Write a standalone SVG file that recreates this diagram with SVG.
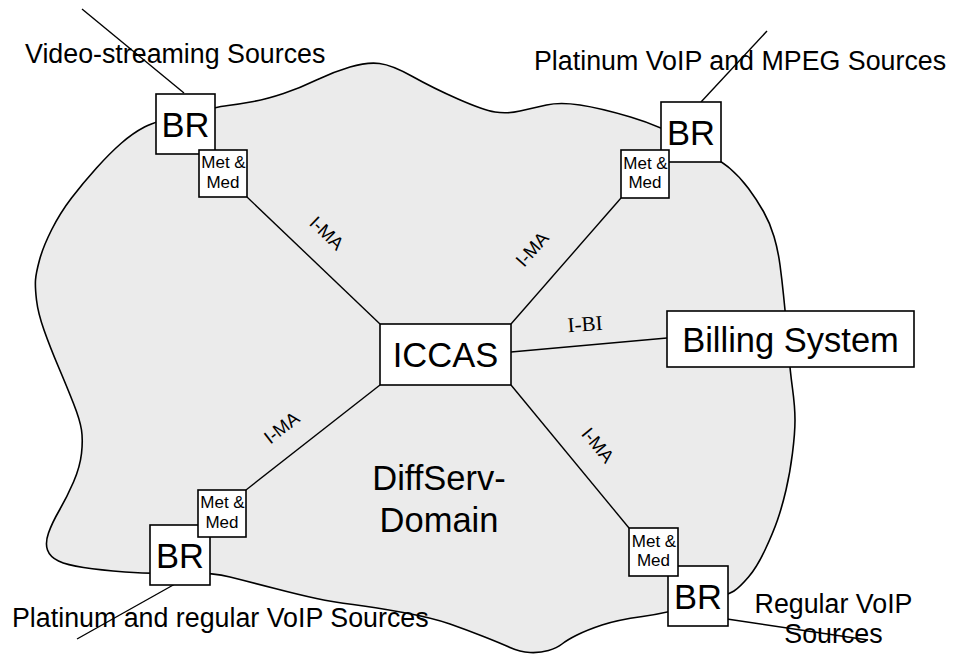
<svg xmlns="http://www.w3.org/2000/svg" width="953" height="654" viewBox="0 0 953 654">
  <style>
    .box { fill: #ffffff; stroke: #000000; stroke-width: 1.6; }
    .link { stroke: #000000; stroke-width: 1.4; fill: none; }
    .big { font-family: "Liberation Sans", Arial, sans-serif; font-size: 34.5px; fill: #000; text-anchor: middle; }
    .small { font-family: "Liberation Sans", Arial, sans-serif; font-size: 17px; fill: #000; text-anchor: middle; }
    .src { font-family: "Liberation Sans", Arial, sans-serif; font-size: 26.8px; fill: #000; }
    .iface { font-family: "Liberation Sans", Arial, sans-serif; font-size: 18.5px; fill: #000; text-anchor: middle; }
    .serif { font-family: "Liberation Serif", "Times New Roman", serif; font-size: 21px; fill: #000; text-anchor: middle; }
  </style>
  <rect x="0" y="0" width="953" height="654" fill="#ffffff"/>

  <!-- DiffServ domain cloud -->
  <g id="domain">
    <path fill="#ebebeb" stroke="#000" stroke-width="1.6" d="M 186,114 Q 216,107 228,105.5 Q 240,104 253.5,101.5 Q 267,99 283.5,93.5 Q 300,88 316.5,80 Q 333,72 350,67 Q 367,62 379.5,63.5 Q 392,65 412.5,76.5 Q 433,88 458,99 Q 483,110 495,112 Q 507,114 520,111 Q 533,108 546.5,105 Q 560,102 580,105 Q 600,108 630.5,117 Q 661,126 690.5,143 Q 720,160 730,168.5 Q 740,177 748.5,188.5 Q 757,200 763.5,211.5 Q 770,223 774,236.5 Q 778,250 780,265 Q 782,280 783.5,295 Q 785,310 786.5,325 Q 788,340 789,355 Q 790,370 792.5,388.5 Q 795,407 795,420 Q 795,433 792.5,453 Q 790,473 786,490 Q 782,507 777.5,520 Q 773,533 765,550 Q 757,567 748.5,577 Q 740,587 734,591 Q 728,595 698,604 Q 668,613 642.5,616.5 Q 617,620 602,625 Q 587,630 577,635 Q 567,640 562,644 Q 557,648 548.5,650.5 Q 540,653 530,652.5 Q 520,652 510,647.5 Q 500,643 483.5,636.5 Q 467,630 450,624 Q 433,618 403,612.5 Q 373,607 353,604.5 Q 333,602 316.5,598.5 Q 300,595 275,588.5 Q 250,582 230,577 Q 210,572 180,573 Q 150,574 125,572 Q 100,570 83.5,567.5 Q 67,565 58.5,561 Q 50,557 47.5,550 Q 45,543 48.5,533 Q 52,523 59.5,510 Q 67,497 73.5,482 Q 80,467 81.5,453.5 Q 83,440 81.5,430 Q 80,420 73.5,403.5 Q 67,387 58.5,367 Q 50,347 44,330 Q 38,313 36.5,300 Q 35,287 35.5,280 Q 36,273 39.5,260 Q 43,247 51.5,230 Q 60,213 71.5,198 Q 83,183 96.5,168 Q 110,153 121.5,143 Q 133,133 144.5,127 Q 156,121 186,114 Z"/>
    <text class="big" x="439" y="490">DiffServ-</text>
    <text class="big" x="439" y="532">Domain</text>
  </g>

  <!-- source labels -->
  <g id="sources">
    <text class="src" x="25" y="63">Video-streaming Sources</text>
    <text class="src" x="534" y="70">Platinum VoIP and MPEG Sources</text>
    <text class="src" x="12" y="627">Platinum and regular VoIP Sources</text>
    <text class="src" x="833.5" y="613" text-anchor="middle">Regular VoIP</text>
    <text class="src" x="833.5" y="643" text-anchor="middle">Sources</text>
  </g>

  <!-- connectors -->
  <g id="connectors">
    <line class="link" x1="82" y1="9" x2="184" y2="93"/>
    <line class="link" x1="767" y1="31" x2="701" y2="102"/>
    <line class="link" x1="175" y1="584" x2="77" y2="639"/>
    <line class="link" x1="727" y1="619" x2="868" y2="640"/>
    <line class="link" x1="247" y1="197" x2="380" y2="324"/>
    <line class="link" x1="511" y1="324" x2="621" y2="198"/>
    <line class="link" x1="380" y1="385" x2="246" y2="490"/>
    <line class="link" x1="511" y1="385" x2="629" y2="528"/>
    <line class="link" x1="511" y1="352" x2="667" y2="338"/>
    <text class="iface" transform="translate(327,233) rotate(43.7)" y="6.6">I-MA</text>
    <text class="iface" transform="translate(532,249) rotate(-48.8)" y="6.6">I-MA</text>
    <text class="iface" transform="translate(281.5,427.5) rotate(-38)" y="6.6">I-MA</text>
    <text class="iface" transform="translate(598,445) rotate(50.5)" y="6.6">I-MA</text>
    <text class="serif" transform="translate(585,324) rotate(-4)" y="7">I-BI</text>
  </g>

  <!-- border routers with metering and mediation units -->
  <g id="br-video">
    <rect class="box" x="156" y="94" width="59" height="60"/>
    <text class="big" x="185.5" y="136.5">BR</text>
  </g>
  <g id="mm-video">
    <rect class="box" x="199" y="150" width="48" height="47"/>
    <text class="small" x="223.5" y="168">Met &amp;</text>
    <text class="small" x="223" y="187.5">Med</text>
  </g>

  <g id="br-platinum-mpeg">
    <rect class="box" x="661" y="102" width="60" height="60"/>
    <text class="big" x="691" y="144.5">BR</text>
  </g>
  <g id="mm-platinum-mpeg">
    <rect class="box" x="621" y="150" width="48" height="48"/>
    <text class="small" x="645.5" y="168.5">Met &amp;</text>
    <text class="small" x="645" y="188">Med</text>
  </g>

  <g id="br-platinum-regular">
    <rect class="box" x="150" y="525" width="60" height="60"/>
    <text class="big" x="180" y="567.5">BR</text>
  </g>
  <g id="mm-platinum-regular">
    <rect class="box" x="198" y="490" width="48" height="47"/>
    <text class="small" x="222.5" y="508">Met &amp;</text>
    <text class="small" x="222" y="527.5">Med</text>
  </g>

  <g id="br-regular">
    <rect class="box" x="668" y="566" width="60" height="60"/>
    <text class="big" x="698" y="608.5">BR</text>
  </g>
  <g id="mm-regular">
    <rect class="box" x="629" y="528" width="49" height="48"/>
    <text class="small" x="654" y="546.5">Met &amp;</text>
    <text class="small" x="653.5" y="566">Med</text>
  </g>

  <g id="iccas">
    <rect class="box" x="380" y="324" width="131" height="61"/>
    <text class="big" x="445.5" y="367">ICCAS</text>
  </g>

  <g id="billing">
    <rect class="box" x="667" y="311" width="247" height="56"/>
    <text class="big" x="790.5" y="351.5">Billing System</text>
  </g>
</svg>
